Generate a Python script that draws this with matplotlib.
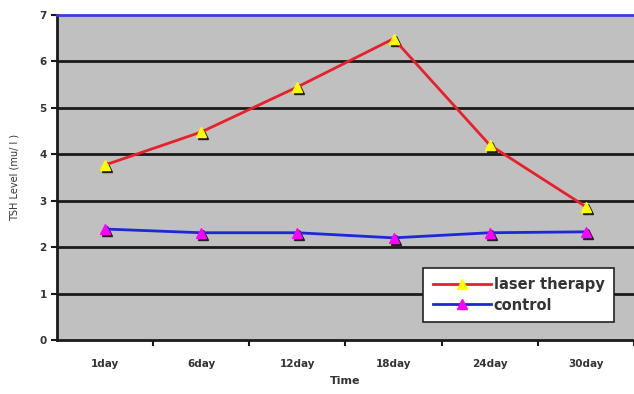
import matplotlib.pyplot as plt
import matplotlib.transforms as mtransforms

days = ["1day", "6day", "12day", "18day", "24day", "30day"]
laser = [3.77, 4.48, 5.45, 6.49, 4.2, 2.87]
control = [2.39, 2.31, 2.31, 2.2, 2.31, 2.33]

fig = plt.figure(figsize=(6.34, 3.94), dpi=100)
ax = fig.add_axes([57 / 634, 54 / 394, 577 / 634, 325 / 394])
ax.set_facecolor("#c0c0c0")

x = list(range(len(days)))
ax.set_xlim(-0.5, -0.5 + 577 / 97)
ax.set_ylim(0, 7)

for y in range(1, 7):
    ax.axhline(y, color="#1a1a1a", lw=2, zorder=1)

# drop shadow under the markers
shadow = mtransforms.offset_copy(ax.transData, fig=fig, x=2, y=-2, units="dots")
ax.plot(x, laser, ls="none", marker="^", ms=7.5, color="#202020", transform=shadow, zorder=2)
ax.plot(x, control, ls="none", marker="^", ms=7.5, color="#202020", transform=shadow, zorder=2)

ax.plot(x, laser, color="#e8202a", lw=2, marker="^", ms=7.5, mfc="#ffff00", mec="#ffff00",
        label="laser therapy", zorder=3)
ax.plot(x, control, color="#1c28d8", lw=2, marker="^", ms=7.5, mfc="#ff00ff", mec="#ff00ff",
        label="control", zorder=3)

ax.set_xticks(x)
ax.set_xticklabels(days, fontsize=7.5, fontweight="bold", color="#333333")
ax.set_xticks([i + 0.5 for i in x], minor=True)
ax.tick_params(axis="x", which="major", length=0, pad=14)
ax.tick_params(axis="x", which="minor", length=4, width=1.5, direction="out", color="#1a1a1a")
ax.set_yticks(range(8))
ax.set_yticklabels([str(i) for i in range(8)], fontsize=7.5, fontweight="bold", color="#333333")
ax.tick_params(axis="y", length=4, width=1.5, color="#1a1a1a")

for side in ("left", "bottom"):
    ax.spines[side].set_color("#1a1a1a")
    ax.spines[side].set_linewidth(2)
ax.spines["top"].set_color("#3a3ae0")
ax.spines["top"].set_linewidth(2)
ax.spines["right"].set_visible(False)

ax.set_xlabel("Time", fontsize=8, fontweight="bold", color="#333333", labelpad=5)
ax.set_ylabel("TSH Level (mu/ l )", fontsize=7, color="#333333", labelpad=14)

leg = ax.legend(loc="lower right", bbox_to_anchor=(614 / 634, 72 / 394),
                bbox_transform=fig.transFigure,
                fontsize=10.5, frameon=True, fancybox=False, edgecolor="#222222",
                framealpha=1, handlelength=4, handletextpad=0.2, borderpad=0.65,
                labelspacing=0.35, borderaxespad=0)
leg.get_frame().set_linewidth(1.2)
for t in leg.get_texts():
    t.set_fontweight("bold")
    t.set_color("#333333")

fig.savefig("out.png", dpi=100)
